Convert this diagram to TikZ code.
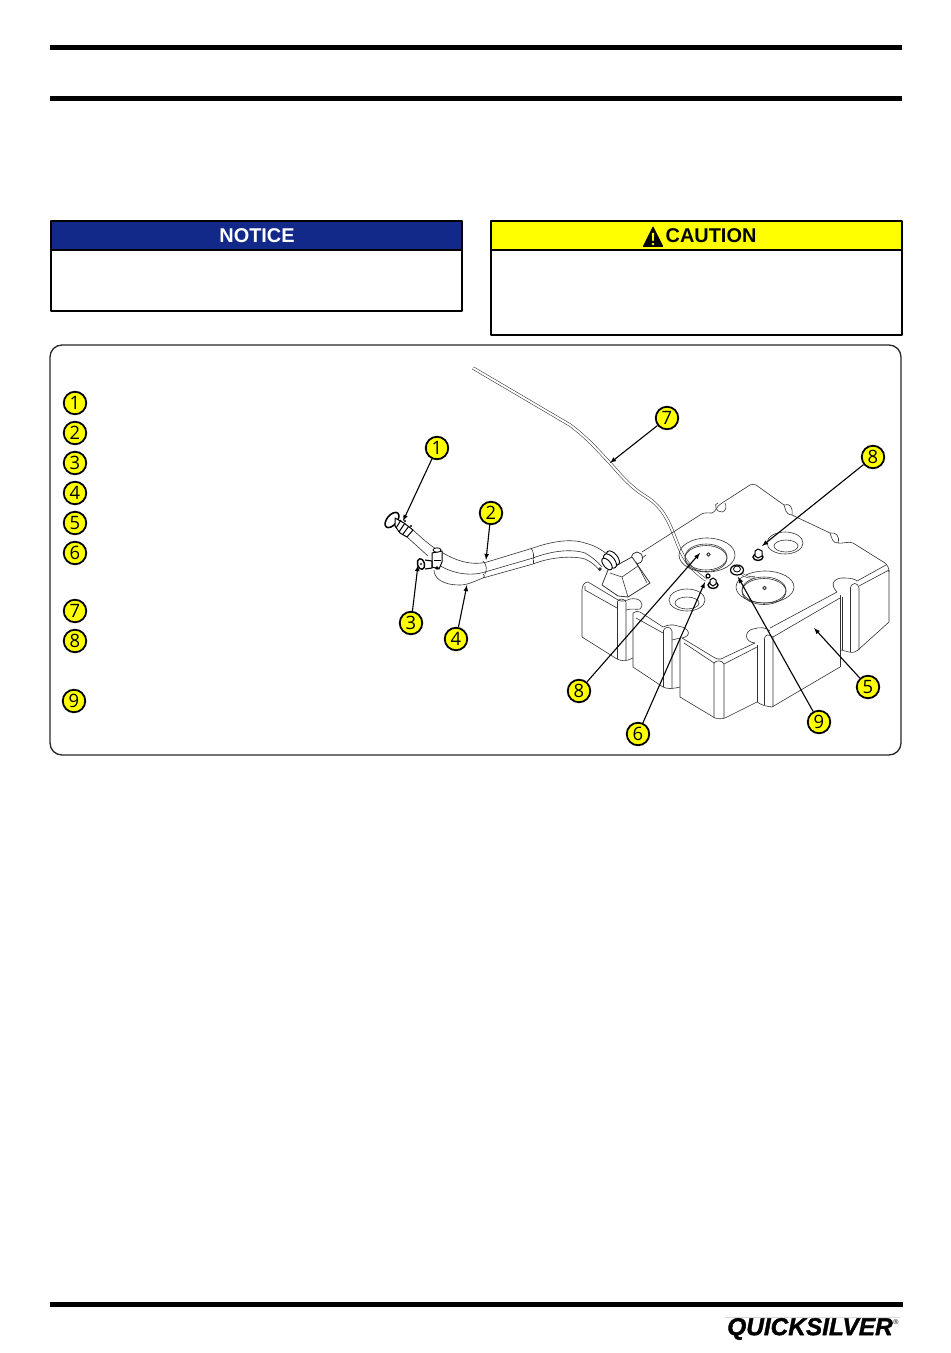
\documentclass[tikz,border=0pt]{standalone}
\usepackage{fontspec}
\setmainfont{Liberation Sans}
\newfontfamily\digitfont{Open Sans}
\newfontfamily\logofont[UprightFont=* Bold Italic,FakeBold=1.5]{Liberation Sans}
\definecolor{noticeblue}{HTML}{12298A}
\definecolor{calloutyellow}{HTML}{FFFF00}
\tikzset{
  callout/.style={circle,draw=black,line width=1.8bp,fill=calloutyellow,minimum size=22.5bp,inner sep=0pt,font=\digitfont\fontsize{18.5}{18.5}\selectfont},
  leader/.style={black,->,line width=1.1bp},
  sketch/.style={black!80,line width=0.6bp,line join=round},
  heavy/.style={black,line width=1bp,line join=round,fill=white},
  tube/.style={black!80,line width=0.55bp,double=white,double distance=2bp},
  headbar/.style={inner sep=0pt,font=\bfseries\fontsize{20}{20}\selectfont},
}
\begin{document}
\begin{tikzpicture}[>=latex,line join=bevel,x=1bp,y=-1bp]
\useasboundingbox (0,0) rectangle (950,1353);
%% page rules
\fill[black] (50,45) rectangle (902,50);
\fill[black] (50,96) rectangle (902,101);
\fill[black] (50,1302) rectangle (903,1307);
%% notice and caution
\fill[noticeblue] (51,221) rectangle (462,250);
\draw[black,line width=1.5bp] (51,221) rectangle (462,311);
\draw[black,line width=1.5bp] (51,250) -- (462,250);
\node (notice) at (257,236) [headbar,text=white] {NOTICE};
\fill[calloutyellow] (491,221) rectangle (902,250);
\draw[black,line width=1.5bp] (491,221) rectangle (902,335);
\draw[black,line width=1.5bp] (491,250) -- (902,250);
\fill[black,rounded corners=0.8bp] (642.5,247) -- (653,226) -- (663.5,247) -- cycle;
\fill[calloutyellow] (651.8,233) -- (654.2,233) -- (653.7,241) -- (652.3,241) -- cycle;
\fill[calloutyellow] (653,244) circle (1.4bp);
\node (caution) at (711,236) [headbar] {CAUTION};
%% frame
\draw[black!85,line width=1.3bp,rounded corners=12bp] (50,345) rectangle (901,755);
%% vent hose
\draw[tube] (473,368) -- (570,425) .. controls (590,440) and (600,453) .. (610,463)
  .. controls (622,477) and (632,488) .. (645,496) .. controls (665,508) and (670,525) .. (678,545)
  .. controls (685,562) and (692,570) .. (706,580);
%% filler hose
\draw[sketch] (413,530) .. controls (425,541) and (433,548) .. (443,553) .. controls (455,560) and (470,566) .. (487,562)
  -- (533,548) .. controls (550,542) and (570,538) .. (585,543) .. controls (597,546) and (605,552) .. (610,557);
\draw[sketch] (407,537) -- (428,556) (436,563) .. controls (445,570) and (465,578) .. (485,572)
  -- (533,558) .. controls (548,552) and (570,548) .. (585,553) .. controls (592,557) and (598,562) .. (602,567);
\draw[sketch] (434,570) .. controls (434,578) and (442,585) .. (460,585) .. controls (468,585) and (475,581) .. (483,578)
  -- (533,564) .. controls (548,558) and (570,555) .. (585,559) .. controls (592,562) and (597,567) .. (600,571);
\draw[sketch] (483,561) .. controls (487,565) and (487,570) .. (485,574);
\draw[sketch] (531,548) .. controls (534,552) and (534,557) .. (533,560);
\draw[sketch] (483,574) .. controls (485,575) and (485,577) .. (483,578);
\draw[sketch] (533,560) -- (533,564);
%% filler neck and cap
\draw[black,line width=1.5bp,fill=white] (392,520) ellipse [x radius=5bp,y radius=9bp,rotate=-40];
\draw[heavy] (395,518) -- (404,523) -- (413,530) -- (407,537) -- (400,533) -- (395,526) -- cycle;
\draw[black,line width=1bp] (401,520) -- (396,528) (405,523) -- (399,532) (409,526) -- (403,534);
\fill[black] (405,521) circle (1.2bp);
\fill[black] (411,526) circle (1.2bp);
\draw[heavy] (432,553) -- (442,551) -- (442,562) -- (439,569) -- (432,567) -- cycle;
\draw[heavy,line width=0.8bp] (437,550) ellipse [x radius=4bp,y radius=2.2bp];
\fill[black] (437,568) circle (1.8bp);
\draw[black,line width=0.8bp] (434,560) -- (441,560);
%% drain fitting
\draw[heavy,line width=1.1bp] (425,560) -- (432,561) -- (432,568) -- (425,569);
\draw[black,line width=1.4bp,fill=white] (421,564) ellipse [x radius=3.5bp,y radius=5.5bp,rotate=15];
\fill[black!70] (421,564) circle (1.4bp);
%% tank top outline
\draw[sketch] (642,552) -- (700,515) .. controls (706,511) and (708,514) .. (712,513)
  .. controls (716,512) and (716,506) .. (722,503) -- (750,485) .. controls (752,484) and (754,484) .. (756,485)
  -- (784,505) .. controls (786,510) and (785,514) .. (792,515) -- (830,533)
  .. controls (832,538) and (832,543) .. (838,543) .. controls (842,544) and (848,541) .. (853,543)
  -- (885,563) .. controls (888,566) and (889,568) .. (889,572);
\draw[sketch] (718,503) .. controls (713,503) and (716,513) .. (722,512) .. controls (726,511) and (727,507) .. (725,503);
\draw[sketch] (784,505) .. controls (790,503) and (793,507) .. (792,515);
\draw[sketch] (830,533) .. controls (836,532) and (840,536) .. (838,543);
\draw[sketch] (646,555) -- (642,558);
\draw[sketch,line width=0.8bp] (637,558) ellipse [x radius=5.5bp,y radius=6bp];
%% tank left blocks
\draw[sketch] (582,590) .. controls (582,585) and (585,582) .. (588,582) -- (618,600) .. controls (622,602) and (625,601) .. (630,599)
  .. controls (640,597) and (645,604) .. (640,609);
\draw[sketch] (582,590) -- (582,637) -- (617,659) .. controls (621,661) and (625,661) .. (628,660) -- (633,658);
\draw[sketch] (585,586) -- (585,590) -- (617,608);
\draw[sketch] (617,602) .. controls (619,598) and (624,598) .. (626,602) -- (626,660);
\draw[sketch] (617,602) -- (617,659);
\draw[sketch] (626,610) .. controls (632,608) and (636,610) .. (640,609);
\draw[sketch] (633,613) -- (633,667) -- (663,687) .. controls (667,689) and (672,689) .. (680,687);
\draw[sketch] (633,613) .. controls (635,611) and (638,611) .. (640,612) -- (663,627) .. controls (668,625) and (672,624) .. (678,626)
  .. controls (690,628) and (692,636) .. (682,638);
\draw[sketch] (636,618) -- (663,633);
\draw[sketch] (663,631) .. controls (665,626) and (671,626) .. (672,631) -- (672,689);
\draw[sketch] (663,631) -- (663,687);
\draw[sketch] (672,640) -- (680,638) -- (680,697);
%% tank front corner
\draw[sketch] (680,697) -- (715,718) .. controls (718,719) and (722,719) .. (725,718) -- (757,702) .. controls (760,704) and (762,705) .. (766,706)
  -- (772,707) -- (840,667);
\draw[sketch] (682,638) -- (715,658) .. controls (719,660) and (722,659) .. (725,657) -- (755,643);
\draw[sketch] (684,643) -- (714,663) -- (714,718);
\draw[sketch] (714,663) .. controls (716,660) and (722,660) .. (724,664) -- (724,718);
\draw[sketch] (724,664) -- (757,647);
\draw[sketch] (757,645) -- (757,702);
\draw[sketch] (755,643) .. controls (744,642) and (744,631) .. (753,629) .. controls (760,627) and (766,627) .. (770,631);
\draw[sketch] (764,639) .. controls (766,634) and (768,634) .. (773,637) -- (773,707);
\draw[sketch] (764,639) -- (764,705);
%% tank right blocks
\draw[sketch] (773,637) -- (840,598);
\draw[sketch] (770,628) -- (837,592) .. controls (828,583) and (836,577) .. (845,578) .. controls (850,578) and (855,579) .. (857,581) -- (886,565);
\draw[sketch] (840,595) -- (840,667);
\draw[sketch] (841,650) -- (849,652) .. controls (853,653) and (856,652) .. (858,650);
\draw[sketch] (842,597) -- (842,650);
\draw[sketch] (850,588) .. controls (852,582) and (858,582) .. (859,588) -- (859,650);
\draw[sketch] (850,588) -- (850,652);
\draw[sketch] (859,586) -- (889,570) -- (889,622) -- (858,650);
%% filler box
\draw[sketch,line width=0.8bp,fill=white] (602,585) -- (608,570) -- (632,557) -- (650,583) -- (628,597) -- (618,596) -- cycle;
\draw[sketch] (610,573) -- (622,577) -- (628,597) (622,577) -- (638,566) (636,562) -- (647,583);
\draw[heavy,line width=0.9bp] (613,558) ellipse [x radius=4.5bp,y radius=8.5bp,rotate=40];
\draw[heavy,line width=0.9bp] (610,561) ellipse [x radius=4.5bp,y radius=8.5bp,rotate=40];
\draw[heavy,line width=0.9bp] (607,564) ellipse [x radius=3.5bp,y radius=7bp,rotate=40];
\fill[black!80] (600,569) circle (1.8bp);
%% wells and holes
\draw[sketch] (707,555) ellipse [x radius=28bp,y radius=17bp];
\draw[sketch] (706,557) ellipse [x radius=21bp,y radius=13bp];
\draw[sketch] (706,558.5) ellipse [x radius=21bp,y radius=13bp];
\draw[sketch] (765,587) ellipse [x radius=29bp,y radius=16bp];
\draw[sketch] (764,590) ellipse [x radius=22bp,y radius=13bp];
\draw[sketch] (764,591.5) ellipse [x radius=22bp,y radius=13bp];
\draw[sketch] (785,543) ellipse [x radius=18bp,y radius=11bp];
\draw[sketch] (786,546) ellipse [x radius=12bp,y radius=6bp];
\draw[sketch] (687,600) ellipse [x radius=18bp,y radius=11bp];
\draw[sketch] (687,603) ellipse [x radius=12bp,y radius=6bp];
\draw[black!80,line width=0.9bp,fill=white] (708.5,554.5) circle (1.8bp);
\draw[black!80,line width=0.9bp,fill=white] (764.5,588) circle (1.8bp);
%% fittings
\draw[black,line width=1.4bp,fill=white] (758,557) ellipse [x radius=5bp,y radius=3.5bp];
\draw[heavy] (755,551) -- (758,549) -- (762,551) -- (762,556) -- (758,558) -- (755,556) -- cycle;
\draw[black,line width=1.4bp,fill=white] (713,585) ellipse [x radius=5bp,y radius=3.5bp];
\draw[heavy] (710,580) -- (713,578) -- (716,580) -- (716,584) -- (713,586) -- (710,584) -- cycle;
\draw[black,line width=1.2bp,fill=white] (708,576) circle (2bp);
\draw[tube,double distance=1bp] (741,573) .. controls (745,577) and (750,578) .. (755,577);
\draw[black,line width=1.2bp,fill=white] (737,570) ellipse [x radius=6.5bp,y radius=5bp];
\draw[heavy,line width=0.8bp] (737,569) ellipse [x radius=3.5bp,y radius=3bp];
%% callout targets
\coordinate (tip1) at (403,521);
\coordinate (tip2) at (486,560);
\coordinate (tip3) at (418,565);
\coordinate (tip4) at (467,585);
\coordinate (tip5) at (814,628);
\coordinate (tip6) at (705,582);
\coordinate (tip7) at (610,463);
\coordinate (tip8a) at (762,546);
\coordinate (tip8b) at (700,553);
\coordinate (tip9) at (738,577);
%% callouts on the drawing
\node (part1) at (437,448) [callout] {1};
\node (part2) at (491,513) [callout] {2};
\node (part3) at (411,623) [callout] {3};
\node (part4) at (456,639) [callout] {4};
\node (part5) at (868,687) [callout] {5};
\node (part6) at (638,734) [callout] {6};
\node (part7) at (667,418) [callout] {7};
\node (part8a) at (873,457) [callout] {8};
\node (part8b) at (579,691) [callout] {8};
\node (part9) at (819,722) [callout] {9};
\draw [leader] (part1) -- (tip1);
\draw [leader] (part2) -- (tip2);
\draw [leader] (part3) -- (tip3);
\draw [leader] (part4) -- (tip4);
\draw [leader] (part5) -- (tip5);
\draw [leader] (part6) -- (tip6);
\draw [leader] (part7) -- (tip7);
\draw [leader] (part8a) -- (tip8a);
\draw [leader] (part8b) -- (tip8b);
\draw [leader] (part9) -- (tip9);
%% legend column
\node (key1) at (75,403) [callout] {1};
\node (key2) at (75,433) [callout] {2};
\node (key3) at (75,463) [callout] {3};
\node (key4) at (75,493) [callout] {4};
\node (key5) at (75,523) [callout] {5};
\node (key6) at (75,553) [callout] {6};
\node (key7) at (75,611) [callout] {7};
\node (key8) at (75,641) [callout] {8};
\node (key9) at (74,701) [callout] {9};
%% logo
\draw[black!15,line width=0.5bp] (725,1317) -- (900,1317);
\node (logo) at (810,1329) [inner sep=0pt,font=\logofont\fontsize{24.5}{25}\selectfont] {QUICKSILVER};
\node (regmark) at (896,1322) [inner sep=0pt,font=\fontsize{7}{7}\selectfont] {®};
%
\end{tikzpicture}
\end{document}
